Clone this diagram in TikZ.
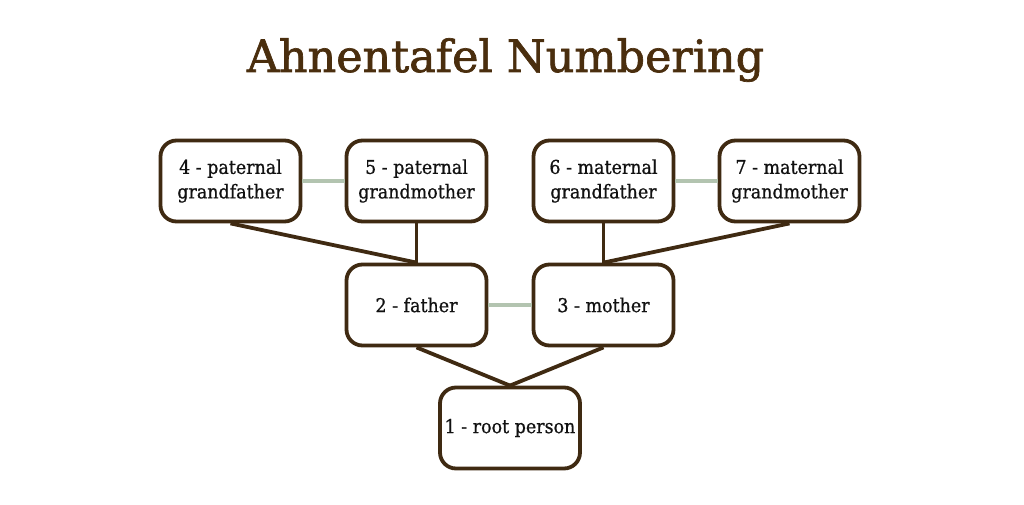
\documentclass[tikz,border=0pt]{standalone}
\usepackage{fontspec}
\setmainfont{DejaVu Serif}
\newfontfamily\boxfont[FakeStretch=0.92,FakeBold=0.8]{DejaVu Serif}
\newfontfamily\titlefont[FakeBold=1.5]{DejaVu Serif}
\definecolor{boxbrown}{HTML}{3F2A12}
\definecolor{titlebrown}{HTML}{4A2E0E}
\definecolor{couple}{HTML}{B3C4B0}
\definecolor{txt}{HTML}{111111}
\tikzset{
  person/.style={draw=boxbrown, line width=3.8pt, rounded corners=16pt, fill=white,
    minimum width=140pt, minimum height=81pt, inner sep=0pt, align=center,
    text=txt, font=\boxfont\fontsize{19}{24.5}\selectfont},
  descent/.style={draw=boxbrown, line width=3.8pt},
  marriage/.style={draw=couple, line width=4pt}
}
\begin{document}
\begin{tikzpicture}[x=1pt,y=-1pt]
\useasboundingbox (0,0) rectangle (1024,505);
\fill[white] (0,0) rectangle (1024,505);
\node[text=titlebrown, font=\titlefont\fontsize{44.5}{50}\selectfont, anchor=base] (title) at (505.5,72) {Ahnentafel Numbering};
\node[person] (p4) at (230.5,181) {4 - paternal\\grandfather};
\node[person] (p5) at (416.5,181) {5 - paternal\\grandmother};
\node[person] (p6) at (603.5,181) {6 - maternal\\grandfather};
\node[person] (p7) at (789.5,181) {7 - maternal\\grandmother};
\node[person] (p2) at (416.5,305) {2 - father};
\node[person] (p3) at (603.5,305) {3 - mother};
\node[person] (p1) at (510,428) {1 - root person};
\draw[marriage] (p4.east) -- (p5.west);
\draw[marriage] (p6.east) -- (p7.west);
\draw[marriage] (p2.east) -- (p3.west);
\draw[descent] (p4.south) -- (p2.north);
\draw[descent] (p5.south) -- (p2.north);
\draw[descent] (p6.south) -- (p3.north);
\draw[descent] (p7.south) -- (p3.north);
\draw[descent] (p2.south) -- (p1.north);
\draw[descent] (p3.south) -- (p1.north);
\end{tikzpicture}
\end{document}
